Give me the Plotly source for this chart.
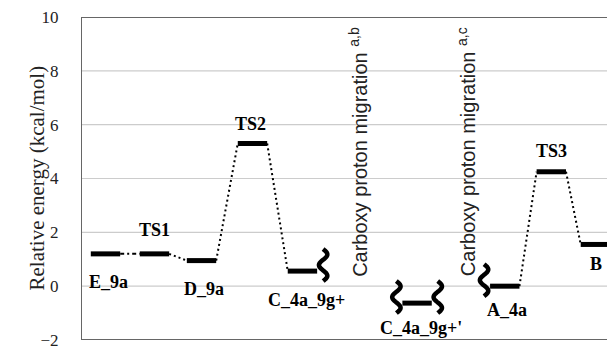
import numpy as np
import plotly.graph_objects as go

# ---- data ----
states = ["E_9a", "TS1", "D_9a", "TS2", "C_4a_9g+", "C_4a_9g+'", "A_4a", "TS3", "B"]
x_pos = [1.0, 2.0, 2.96, 4.0, 5.02, 7.36, 9.15, 10.1, 11.0]
energy = [1.2, 1.2, 0.95, 5.3, 0.56, -0.63, 0.0, 4.25, 1.55]
# connected pairs (indices) and dash style
links = [(0, 1, "4px,3px,2px,3px"), (1, 2, "2px,3px"), (2, 3, "2px,3px"), (3, 4, "2px,3px"),
         (6, 7, "2px,3px"), (7, 8, "2px,3px")]
# squiggle break marks: (state index, side)
breaks = [(4, 1), (5, -1), (5, 1), (6, -1)]
annot_texts = ["Carboxy proton migration <sup>a,b</sup>", "Carboxy proton migration <sup>a,c</sup>"]
annot_x = [6.16, 8.37]
y_ticks = [-2, 0, 2, 4, 6, 8, 10]
x_range = [0.5, 11.4]
y_range = [-2, 10]

# ---- style ----
half_w = 0.3
label_shift = [(3, -28), (0, 24), (2, -28), (-2, 20), (4, -29), (4, -25), (2, -24), (0, 21), (1, -20)]
serif = "Liberation Serif"
sans = "Liberation Sans"

fig = go.Figure()

# horizontal gridlines (drawn as traces at the tick values)
for yt in y_ticks[1:-1]:
    fig.add_trace(go.Scatter(x=x_range, y=[yt, yt], mode="lines",
                             line=dict(color="#cccccc", width=1.2),
                             hoverinfo="skip", showlegend=False))

# connectors
for a, b, dash in links:
    fig.add_trace(go.Scatter(
        x=[x_pos[a] + half_w, x_pos[b] - half_w], y=[energy[a], energy[b]],
        mode="lines", line=dict(color="black", width=2, dash=dash),
        hoverinfo="skip", showlegend=False))

# level bars
for xc, e in zip(x_pos, energy):
    fig.add_trace(go.Scatter(
        x=[xc - half_w, xc + half_w], y=[e, e], mode="lines",
        line=dict(color="black", width=5), hoverinfo="skip", showlegend=False))

# plot frame as a trace along the axis ranges
fig.add_trace(go.Scatter(
    x=[x_range[0], x_range[1], x_range[1], x_range[0], x_range[0]],
    y=[y_range[0], y_range[0], y_range[1], y_range[1], y_range[0]],
    mode="lines", line=dict(color="#666666", width=2), cliponaxis=False,
    hoverinfo="skip", showlegend=False))

# squiggle path (pixel units, relative to anchor)
t = np.linspace(0, 3 * np.pi, 40)
def squiggle(dx):
    ys = np.linspace(-16, 16, t.size) + 6
    xs = dx + 4.2 * np.sin(t)
    return "M " + " L ".join(f"{a:.2f},{b:.2f}" for a, b in zip(xs, ys))

for idx, side in breaks:
    fig.add_shape(type="path", xref="x", yref="y",
                  xsizemode="pixel", ysizemode="pixel",
                  xanchor=x_pos[idx] + side * half_w, yanchor=energy[idx],
                  path=squiggle(side * 6), line=dict(color="black", width=4.5))

# state labels
for name, xc, e, (dx, dy) in zip(states, x_pos, energy, label_shift):
    fig.add_annotation(x=xc, y=e, text=f"<b>{name}</b>", showarrow=False,
                       xshift=dx, yshift=dy, font=dict(family=serif, size=18, color="black"))

# vertical annotations
for txt, xa in zip(annot_texts, annot_x):
    fig.add_annotation(x=xa, y=5.0, text=txt, textangle=-90, showarrow=False,
                       font=dict(family=sans, size=20, color="#222"))

# y-axis title
fig.add_annotation(x=0, y=0.5, xref="paper", yref="paper", xshift=-59,
                   text="Relative energy (kcal/mol)", textangle=-90, showarrow=False,
                   font=dict(family=serif, size=21, color="#222"))

fig.update_layout(
    width=607, height=342,
    margin=dict(l=73, r=0, t=9, b=10, autoexpand=False),
    plot_bgcolor="white", paper_bgcolor="white",
    xaxis=dict(range=x_range, showgrid=False, zeroline=False, showticklabels=False,
               showline=False, ticks="", automargin=False),
    yaxis=dict(range=y_range, tickvals=y_ticks, showgrid=False, zeroline=False,
               showline=False, ticks="outside", ticklen=18, tickcolor="rgba(0,0,0,0)",
               ticklabeloverflow="allow", automargin=False,
               tickfont=dict(family=serif, size=17, color="#222")),
)

fig.write_html("out.html")
